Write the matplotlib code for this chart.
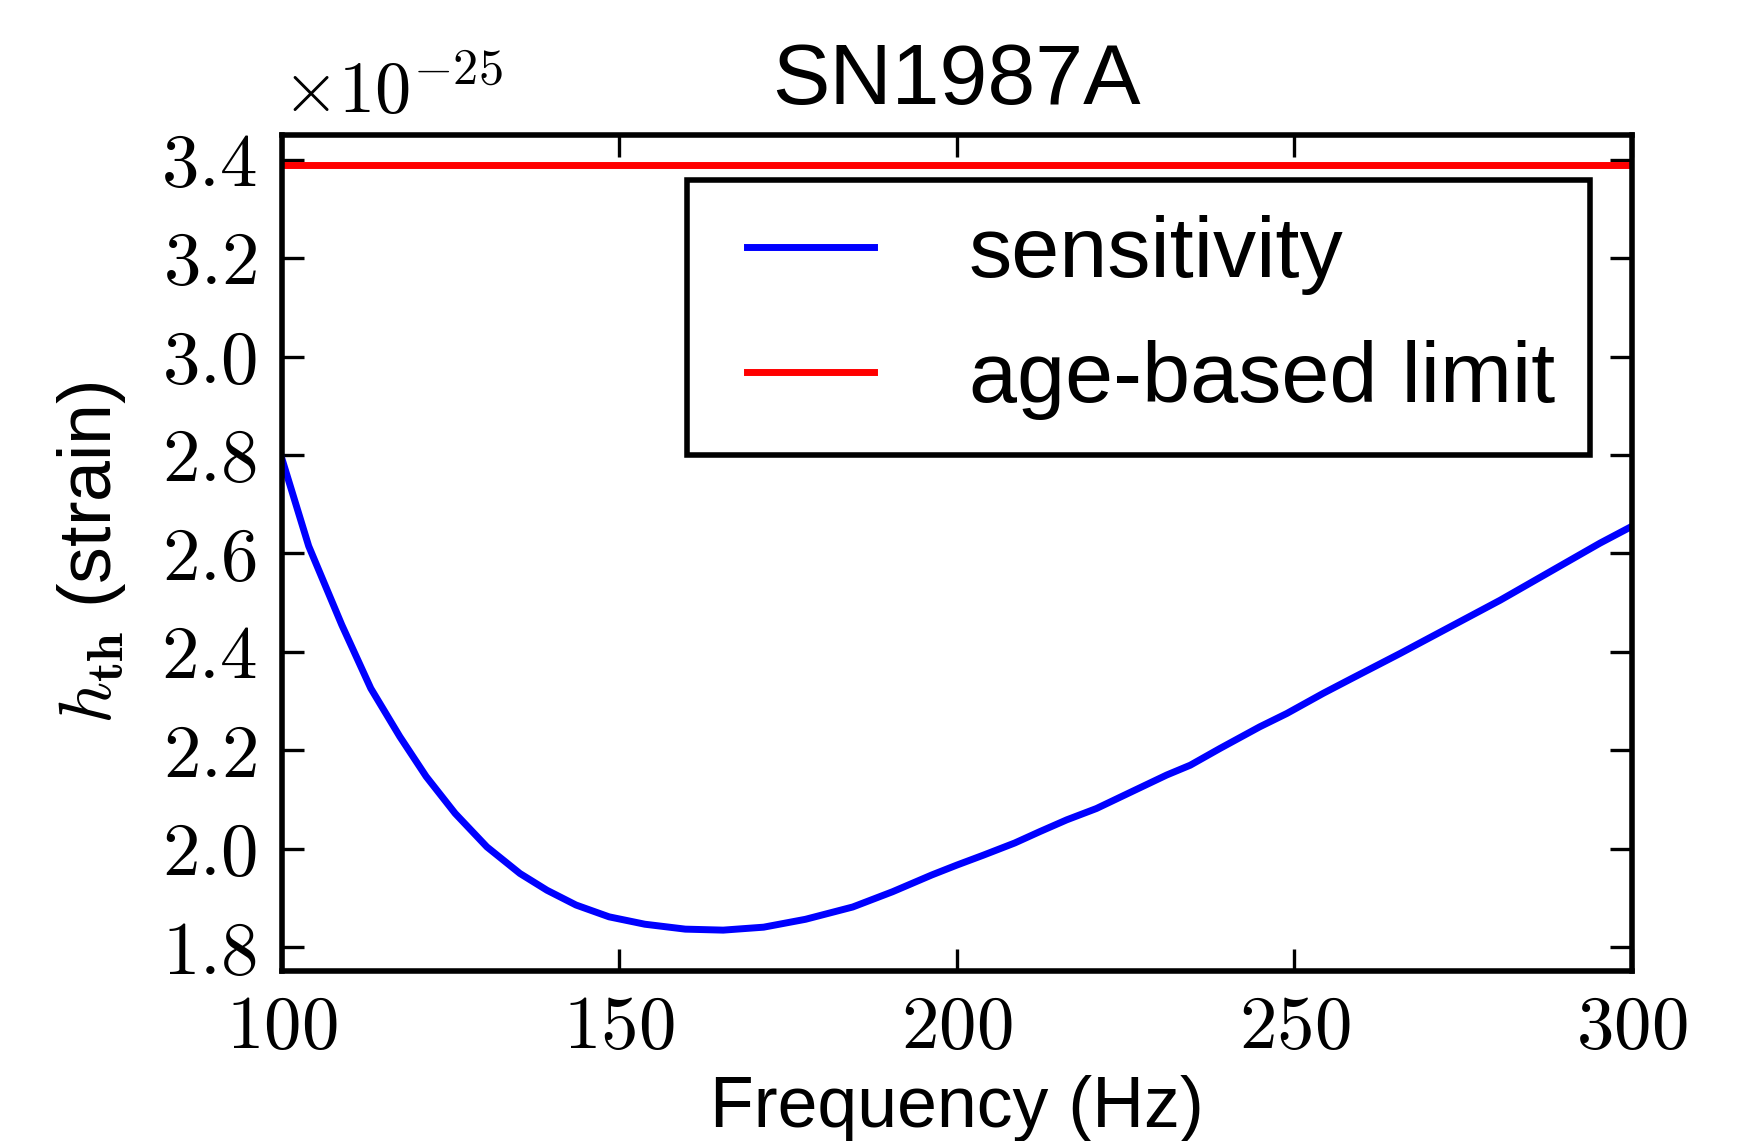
import numpy as np
import matplotlib
matplotlib.use('Agg')
import matplotlib.pyplot as plt
from matplotlib.legend_handler import HandlerLine2D

# values (strain in units of 1e-25)
freq = [100, 104.0, 108.9, 113.2, 117.5, 121.4, 125.7, 130.4, 135.3, 139.3,
        143.6, 148.5, 153.8, 159.8, 165.4, 171.4, 177.6, 184.6, 190.5, 196.3,
        200.0, 203.9, 208.6, 212.3, 216.3, 220.7, 226.2, 231.1, 234.6, 239.0,
        244.9, 248.9, 254.3, 258.5, 265.7, 273.1, 280.5, 287.9, 295.3, 300]
sens = [2.794, 2.615, 2.455, 2.326, 2.228, 2.147, 2.072, 2.004, 1.950, 1.916,
        1.886, 1.862, 1.847, 1.837, 1.835, 1.841, 1.857, 1.882, 1.913, 1.947,
        1.967, 1.987, 2.012, 2.035, 2.059, 2.082, 2.118, 2.150, 2.170, 2.204,
        2.248, 2.275, 2.316, 2.346, 2.397, 2.451, 2.505, 2.563, 2.621, 2.655]
age_limit = 3.39
scale = 1e-25

xticks = [100, 150, 200, 250, 300]
yticks = [1.8, 2.0, 2.2, 2.4, 2.6, 2.8, 3.0, 3.2, 3.4]

plt.rcParams['font.family'] = 'cmr10'
plt.rcParams['mathtext.fontset'] = 'cm'
plt.rcParams['axes.formatter.use_mathtext'] = True
plt.rcParams['axes.unicode_minus'] = True

sans = 'Liberation Sans'

fig = plt.figure(figsize=(8.77, 5.705), dpi=200)
ax = fig.add_axes([0.1606, 0.149, 0.7697, 0.7327])

ax.plot(freq, np.array(sens) * scale, color='#0000ff', lw=2.5, label='sensitivity')
ax.axhline(age_limit * scale, color='#ff0000', lw=2.5, label='age-based limit')

ax.set_xlim(100, 300)
ax.set_ylim(1.752 * scale, 3.45 * scale)
ax.set_xticks(xticks)
ax.set_yticks(np.array(yticks) * scale)

for s in ax.spines.values():
    s.set_linewidth(2.0)
ax.tick_params(direction='in', top=True, right=True, length=8, width=1.2,
               labelsize=27, pad=9)
ax.yaxis.OFFSETTEXTPAD = 8
ax.yaxis.get_offset_text().set_fontsize(26)

ax.set_title('SN1987A', fontfamily=sans, fontsize=31, y=1.0, pad=11)
ax.set_xlabel('Frequency (Hz)', fontfamily=sans, fontsize=25.8, labelpad=4)
ax.set_ylabel(r'$h_{\mathbf{th}}$ (strain)', fontfamily=sans, fontsize=26.5, labelpad=12)

leg = ax.legend(loc='upper right', bbox_to_anchor=(0.969, 0.9462), borderaxespad=0,
                prop={'family': sans, 'size': 31.1}, handlelength=1.76,
                handletextpad=1.10, borderpad=0.405, labelspacing=0.52,
                fancybox=False, framealpha=1,
                handler_map={plt.Line2D: HandlerLine2D(xpad=0.295)})
leg.get_frame().set_edgecolor('black')
leg.get_frame().set_linewidth(2.0)

fig.savefig('out.png', dpi=200)
